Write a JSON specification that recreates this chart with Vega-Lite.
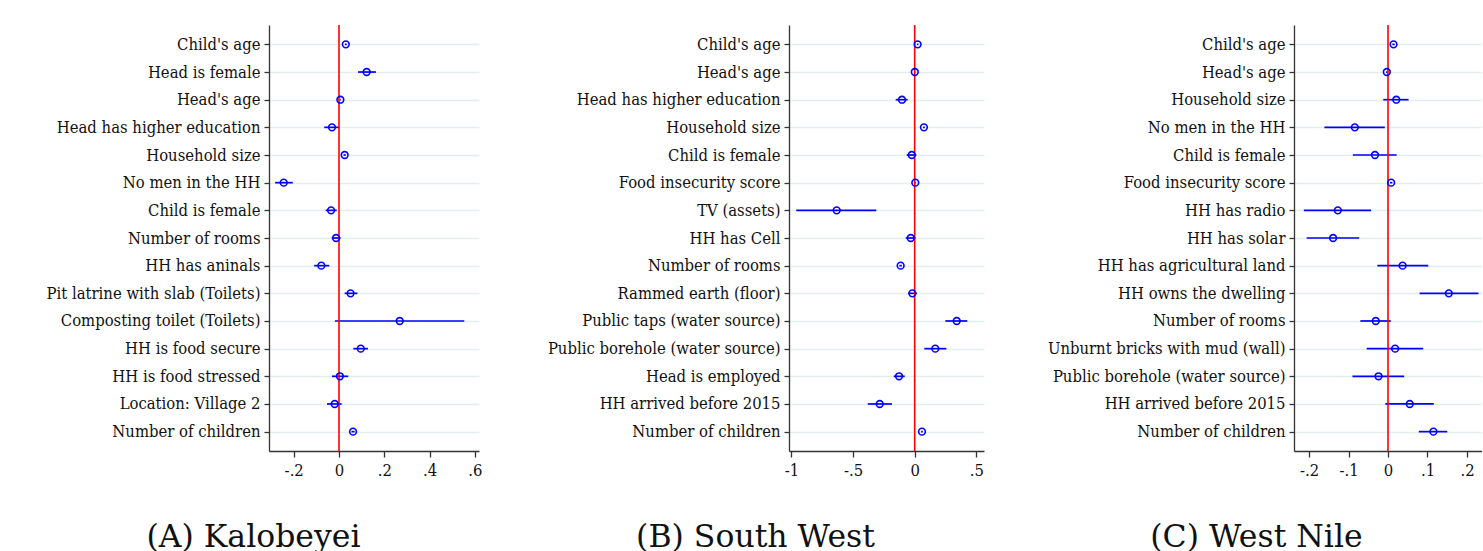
{
  "$schema": "https://vega.github.io/schema/vega-lite/v6.json",
  "padding": {"left": 46, "top": 24, "right": 0, "bottom": 0},
  "background": "white",
  "config": {
    "view": {"stroke": null},
    "axis": {"domainColor": "#333333", "tickColor": "#333333", "domainWidth": 1.3, "tickWidth": 1.3, "labelColor": "#111111", "titleColor": "#111111", "gridColor": "#e4edf0", "gridWidth": 1.3, "labelLimit": 400, "labelFont": "DejaVu Serif Condensed", "labelFontSize": 16.5}
  },
  "datasets": {
    "coef": [
      {"panel": "A", "o": 1, "v": "Child's age", "b": 0.030, "lo": 0.026, "hi": 0.034},
      {"panel": "A", "o": 2, "v": "Head is female", "b": 0.122, "lo": 0.084, "hi": 0.163},
      {"panel": "A", "o": 3, "v": "Head's age", "b": 0.006, "lo": 0.004, "hi": 0.008},
      {"panel": "A", "o": 4, "v": "Head has higher education", "b": -0.031, "lo": -0.065, "hi": 0.001},
      {"panel": "A", "o": 5, "v": "Household size", "b": 0.025, "lo": 0.020, "hi": 0.030},
      {"panel": "A", "o": 6, "v": "No men in the HH", "b": -0.244, "lo": -0.282, "hi": -0.204},
      {"panel": "A", "o": 7, "v": "Child is female", "b": -0.035, "lo": -0.059, "hi": -0.010},
      {"panel": "A", "o": 8, "v": "Number of rooms", "b": -0.013, "lo": -0.032, "hi": 0.007},
      {"panel": "A", "o": 9, "v": "HH has aninals", "b": -0.078, "lo": -0.110, "hi": -0.043},
      {"panel": "A", "o": 10, "v": "Pit latrine with slab (Toilets)", "b": 0.051, "lo": 0.025, "hi": 0.081},
      {"panel": "A", "o": 11, "v": "Composting toilet (Toilets)", "b": 0.268, "lo": -0.018, "hi": 0.553},
      {"panel": "A", "o": 12, "v": "HH is food secure", "b": 0.096, "lo": 0.063, "hi": 0.128},
      {"panel": "A", "o": 13, "v": "HH is food stressed", "b": 0.004, "lo": -0.031, "hi": 0.041},
      {"panel": "A", "o": 14, "v": "Location: Village 2", "b": -0.019, "lo": -0.053, "hi": 0.012},
      {"panel": "A", "o": 15, "v": "Number of children", "b": 0.062, "lo": 0.055, "hi": 0.069},
      {"panel": "B", "o": 1, "v": "Child's age", "b": 0.024, "lo": 0.018, "hi": 0.030},
      {"panel": "B", "o": 2, "v": "Head's age", "b": 0.001, "lo": -0.003, "hi": 0.005},
      {"panel": "B", "o": 3, "v": "Head has higher education", "b": -0.103, "lo": -0.154, "hi": -0.057},
      {"panel": "B", "o": 4, "v": "Household size", "b": 0.075, "lo": 0.068, "hi": 0.082},
      {"panel": "B", "o": 5, "v": "Child is female", "b": -0.024, "lo": -0.065, "hi": 0.013},
      {"panel": "B", "o": 6, "v": "Food insecurity score", "b": 0.005, "lo": 0.001, "hi": 0.009},
      {"panel": "B", "o": 7, "v": "TV (assets)", "b": -0.633, "lo": -0.961, "hi": -0.312},
      {"panel": "B", "o": 8, "v": "HH has Cell", "b": -0.032, "lo": -0.073, "hi": 0.008},
      {"panel": "B", "o": 9, "v": "Number of rooms", "b": -0.114, "lo": -0.124, "hi": -0.104},
      {"panel": "B", "o": 10, "v": "Rammed earth (floor)", "b": -0.019, "lo": -0.052, "hi": 0.019},
      {"panel": "B", "o": 11, "v": "Public taps (water source)", "b": 0.341, "lo": 0.249, "hi": 0.427},
      {"panel": "B", "o": 12, "v": "Public borehole (water source)", "b": 0.167, "lo": 0.078, "hi": 0.257},
      {"panel": "B", "o": 13, "v": "Head is employed", "b": -0.127, "lo": -0.170, "hi": -0.081},
      {"panel": "B", "o": 14, "v": "HH arrived before 2015", "b": -0.284, "lo": -0.381, "hi": -0.184},
      {"panel": "B", "o": 15, "v": "Number of children", "b": 0.059, "lo": 0.052, "hi": 0.066},
      {"panel": "C", "o": 1, "v": "Child's age", "b": 0.014, "lo": 0.011, "hi": 0.017},
      {"panel": "C", "o": 2, "v": "Head's age", "b": -0.003, "lo": -0.005, "hi": -0.001},
      {"panel": "C", "o": 3, "v": "Household size", "b": 0.021, "lo": -0.012, "hi": 0.052},
      {"panel": "C", "o": 4, "v": "No men in the HH", "b": -0.084, "lo": -0.161, "hi": -0.008},
      {"panel": "C", "o": 5, "v": "Child is female", "b": -0.033, "lo": -0.089, "hi": 0.022},
      {"panel": "C", "o": 6, "v": "Food insecurity score", "b": 0.008, "lo": 0.005, "hi": 0.011},
      {"panel": "C", "o": 7, "v": "HH has radio", "b": -0.127, "lo": -0.213, "hi": -0.043},
      {"panel": "C", "o": 8, "v": "HH has solar", "b": -0.139, "lo": -0.206, "hi": -0.073},
      {"panel": "C", "o": 9, "v": "HH has agricultural land", "b": 0.037, "lo": -0.027, "hi": 0.102},
      {"panel": "C", "o": 10, "v": "HH owns the dwelling", "b": 0.154, "lo": 0.080, "hi": 0.229},
      {"panel": "C", "o": 11, "v": "Number of rooms", "b": -0.031, "lo": -0.070, "hi": 0.007},
      {"panel": "C", "o": 12, "v": "Unburnt bricks with mud (wall)", "b": 0.018, "lo": -0.054, "hi": 0.089},
      {"panel": "C", "o": 13, "v": "Public borehole (water source)", "b": -0.024, "lo": -0.090, "hi": 0.041},
      {"panel": "C", "o": 14, "v": "HH arrived before 2015", "b": 0.055, "lo": -0.007, "hi": 0.116},
      {"panel": "C", "o": 15, "v": "Number of children", "b": 0.115, "lo": 0.078, "hi": 0.150}
    ]
  },
  "spacing": 310,
  "bounds": "flush",
  "hconcat": [
    {
      "width": 210, "height": 426,
      "layer": [
        {
          "data": {"name": "coef"},
          "transform": [{"filter": "datum.panel == 'A'"}],
          "mark": {"type": "rule", "color": "#0000ff", "strokeWidth": 1.7},
          "encoding": {
            "y": {"field": "v", "type": "nominal", "sort": {"field": "o", "op": "min"}, "scale": {"type": "point", "padding": 0.7},
                  "axis": {"title": null, "grid": true, "tickSize": 5, "labelPadding": 4}},
            "x": {"field": "lo", "type": "quantitative", "scale": {"domain": [-0.309, 0.618], "nice": false, "zero": false},
                  "axis": {"values": [-0.2, 0, 0.2, 0.4, 0.6], "grid": false, "tickSize": 6, "labelPadding": 5,
                           "labelExpr": "replace(replace(format(datum.value, '.1~f'), '0.', '.'), '\u2212', '-')",
                           "title": "(A) Kalobeyei", "titleFont": "DejaVu Serif", "titleFontSize": 31.5, "titleFontWeight": "normal", "titleX": -16, "titleY": 95, "titleBaseline": "alphabetic", "titleAlign": "center", "titleAnchor": null}},
            "x2": {"field": "hi"}
          }
        },
        {
          "data": {"values": [{}]},
          "mark": {"type": "rule", "color": "#ff0000", "strokeWidth": 1.6},
          "encoding": {"x": {"datum": 0}}
        },
        {
          "data": {"name": "coef"},
          "transform": [{"filter": "datum.panel == 'A'"}],
          "mark": {"type": "point", "shape": "circle", "filled": false, "color": "#0000ff", "strokeWidth": 1.6, "size": 45, "opacity": 1},
          "encoding": {
            "y": {"field": "v", "type": "nominal", "sort": {"field": "o", "op": "min"}},
            "x": {"field": "b", "type": "quantitative"}
          }
        }
      ]
    },
    {
      "width": 195, "height": 426,
      "layer": [
        {
          "data": {"name": "coef"},
          "transform": [{"filter": "datum.panel == 'B'"}],
          "mark": {"type": "rule", "color": "#0000ff", "strokeWidth": 1.7},
          "encoding": {
            "y": {"field": "v", "type": "nominal", "sort": {"field": "o", "op": "min"}, "scale": {"type": "point", "padding": 0.7},
                  "axis": {"title": null, "grid": true, "tickSize": 5, "labelPadding": 4}},
            "x": {"field": "lo", "type": "quantitative", "scale": {"domain": [-1.02, 0.5625], "nice": false, "zero": false},
                  "axis": {"values": [-1, -0.5, 0, 0.5], "grid": false, "tickSize": 6, "labelPadding": 5,
                           "labelExpr": "replace(replace(format(datum.value, '.1~f'), '0.', '.'), '\u2212', '-')",
                           "title": "(B) South West", "titleFont": "DejaVu Serif", "titleFontSize": 31.5, "titleFontWeight": "normal", "titleX": -34, "titleY": 95, "titleBaseline": "alphabetic", "titleAlign": "center", "titleAnchor": null}},
            "x2": {"field": "hi"}
          }
        },
        {
          "data": {"values": [{}]},
          "mark": {"type": "rule", "color": "#ff0000", "strokeWidth": 1.6},
          "encoding": {"x": {"datum": 0}}
        },
        {
          "data": {"name": "coef"},
          "transform": [{"filter": "datum.panel == 'B'"}],
          "mark": {"type": "point", "shape": "circle", "filled": false, "color": "#0000ff", "strokeWidth": 1.6, "size": 45, "opacity": 1},
          "encoding": {
            "y": {"field": "v", "type": "nominal", "sort": {"field": "o", "op": "min"}},
            "x": {"field": "b", "type": "quantitative"}
          }
        }
      ]
    },
    {
      "width": 188, "height": 426,
      "layer": [
        {
          "data": {"name": "coef"},
          "transform": [{"filter": "datum.panel == 'C'"}],
          "mark": {"type": "rule", "color": "#0000ff", "strokeWidth": 1.7},
          "encoding": {
            "y": {"field": "v", "type": "nominal", "sort": {"field": "o", "op": "min"}, "scale": {"type": "point", "padding": 0.7},
                  "axis": {"title": null, "grid": true, "tickSize": 5, "labelPadding": 4}},
            "x": {"field": "lo", "type": "quantitative", "scale": {"domain": [-0.238, 0.238], "nice": false, "zero": false},
                  "axis": {"values": [-0.2, -0.1, 0, 0.1, 0.2], "grid": false, "tickSize": 6, "labelPadding": 5,
                           "labelExpr": "replace(replace(format(datum.value, '.1~f'), '0.', '.'), '\u2212', '-')",
                           "title": "(C) West Nile", "titleFont": "DejaVu Serif", "titleFontSize": 31.5, "titleFontWeight": "normal", "titleX": -38, "titleY": 95, "titleBaseline": "alphabetic", "titleAlign": "center", "titleAnchor": null}},
            "x2": {"field": "hi"}
          }
        },
        {
          "data": {"values": [{}]},
          "mark": {"type": "rule", "color": "#ff0000", "strokeWidth": 1.6},
          "encoding": {"x": {"datum": 0}}
        },
        {
          "data": {"name": "coef"},
          "transform": [{"filter": "datum.panel == 'C'"}],
          "mark": {"type": "point", "shape": "circle", "filled": false, "color": "#0000ff", "strokeWidth": 1.6, "size": 45, "opacity": 1},
          "encoding": {
            "y": {"field": "v", "type": "nominal", "sort": {"field": "o", "op": "min"}},
            "x": {"field": "b", "type": "quantitative"}
          }
        }
      ]
    }
  ]
}
